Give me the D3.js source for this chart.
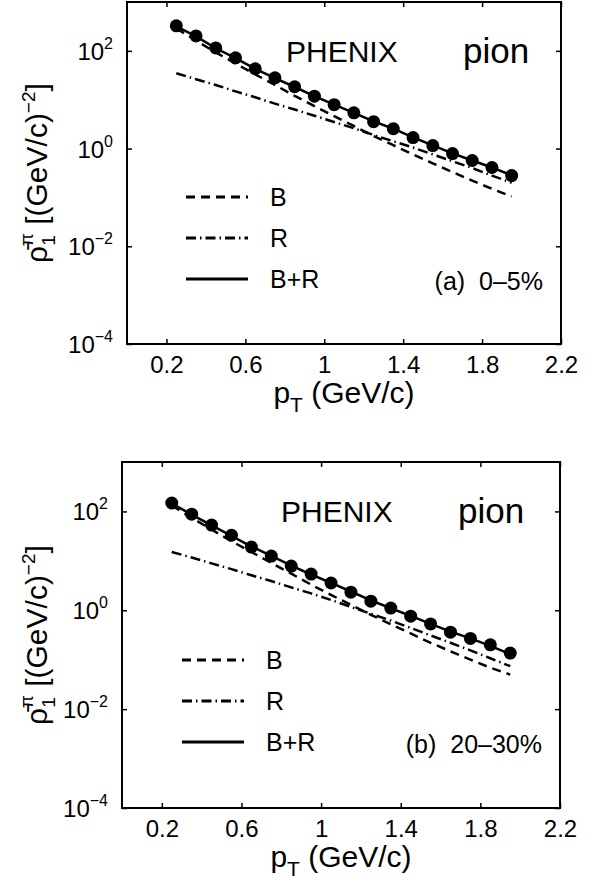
<!DOCTYPE html>
<html lang="en">
<head>
  <meta charset="UTF-8">
  <title>pion spectra</title>
  <script src="https://cdn.jsdelivr.net/npm/d3@7"></script>
<style>
body{
  margin: 0;
  background: #fff;
}
text{
  font-family: "Liberation Sans", Arial, sans-serif;
  fill: #000;
}
.marco{
  fill: none;
  stroke: #000;
  stroke-width: 2;
}
.eje path{ display: none; }
.eje line{ stroke: #000; stroke-width: 1.5; }
</style>
</head>
<body>
  <div id="grafico"></div>

  <script>
    var w = 602;
    var h = 884;

    // pT values of the points (GeV/c)
    var pT = [0.25, 0.35, 0.45, 0.55, 0.65, 0.75, 0.85, 0.95, 1.05, 1.15,
              1.25, 1.35, 1.45, 1.55, 1.65, 1.75, 1.85, 1.95];

    // (a) 0-5%
    var pionA = [326, 202, 115, 72, 43, 28, 18.4, 11.8, 7.9, 5.4,
                 3.56, 2.56, 1.68, 1.15, 0.79, 0.57, 0.41, 0.28];
    var sumA  = [318, 198, 113, 71, 43, 27.6, 18.2, 11.8, 7.9, 5.4,
                 3.6, 2.55, 1.7, 1.16, 0.8, 0.57, 0.41, 0.285];
    var baseA = [288, 162, 93, 55, 33, 20, 12, 7.4, 4.6, 2.9,
                 1.8, 1.17, 0.76, 0.5, 0.33, 0.22, 0.15, 0.105];
    var recoA = [34.7, 26.3, 20.0, 14.8, 11.2, 8.3, 6.3, 4.7, 3.5, 2.6,
                 1.9, 1.41, 1.05, 0.76, 0.55, 0.4, 0.28, 0.2];

    // (b) 20-30%
    var pionB = [148, 88, 53, 33, 19, 12.5, 7.85, 5.4, 3.56, 2.33,
                 1.53, 1.11, 0.76, 0.53, 0.36, 0.27, 0.2, 0.136];
    var sumB  = [145, 86, 52, 32, 19.5, 12.6, 8.0, 5.3, 3.6, 2.4,
                 1.58, 1.1, 0.77, 0.53, 0.37, 0.27, 0.19, 0.13];
    var baseB = [132, 74, 43, 25, 15.1, 9.1, 5.5, 3.3, 2.04, 1.29,
                 0.81, 0.52, 0.34, 0.22, 0.148, 0.1, 0.069, 0.05];
    var recoB = [15.1, 11.7, 8.9, 6.8, 5.1, 3.9, 2.9, 2.2, 1.62, 1.17,
                 0.85, 0.62, 0.44, 0.31, 0.22, 0.155, 0.107, 0.074];

    var xTicks = [0.2, 0.6, 1, 1.4, 1.8, 2.2];
    var yExps = [-4, -2, 0, 2];
    var leyenda = ["B", "R", "B+R"];
    var estilos = [
      {dash: "9,6", ancho: 2.5},
      {dash: "10,4,1.5,4", ancho: 2.5},
      {dash: null, ancho: 2.5}
    ];

    var grafico = d3.select("#grafico")
      .append("svg")
      .attr("width", w)
      .attr("height", h);

    function panel(p){
      var xScale = d3.scaleLinear().domain([0, 2.2]).range([p.left, p.right]);
      var yScale = d3.scaleLog().domain([1e-4, 1e3]).range([p.bottom, p.top]);
      var g = grafico.append("g");

      // ticks hacia dentro en los cuatro lados
      g.append("g").attr("class", "eje")
        .attr("transform", "translate(0," + p.bottom + ")")
        .call(d3.axisBottom(xScale).tickValues(xTicks).tickSize(-5).tickPadding(12)
          .tickFormat(function(d){ return d; }))
        .selectAll("text").attr("font-size", 24).style("font-family", "Liberation Sans, Arial, sans-serif");
      g.append("g").attr("class", "eje")
        .attr("transform", "translate(0," + p.top + ")")
        .call(d3.axisTop(xScale).tickValues(xTicks).tickSize(-5).tickFormat(""));
      g.append("g").attr("class", "eje")
        .attr("transform", "translate(" + p.left + ",0)")
        .call(d3.axisLeft(yScale).tickValues(yExps.map(function(e){ return Math.pow(10, e); }))
          .tickSize(-5).tickFormat(""));
      g.append("g").attr("class", "eje")
        .attr("transform", "translate(" + p.right + ",0)")
        .call(d3.axisRight(yScale).tickValues(yExps.map(function(e){ return Math.pow(10, e); }))
          .tickSize(-5).tickFormat(""));

      // etiquetas del eje y: 10^n
      yExps.forEach(function(e){
        var t = g.append("text")
          .attr("x", p.left - 14)
          .attr("y", yScale(Math.pow(10, e)) + 9)
          .attr("text-anchor", "end")
          .attr("font-size", 24)
          .text("10");
        t.append("tspan").attr("dy", -11).attr("font-size", 16)
          .text(e < 0 ? "\u2212" + (-e) : e);
      });

      g.append("rect").attr("class", "marco")
        .attr("x", p.left).attr("y", p.top)
        .attr("width", p.right - p.left).attr("height", p.bottom - p.top);

      // curvas
      var line = d3.line()
        .x(function(d){ return xScale(d[0]); })
        .y(function(d){ return yScale(d[1]); });
      [p.base, p.reco, p.sum].forEach(function(serie, i){
        g.append("path")
          .datum(d3.zip(pT, serie))
          .attr("d", line)
          .attr("fill", "none")
          .attr("stroke", "#000")
          .attr("stroke-width", estilos[i].ancho)
          .attr("stroke-dasharray", estilos[i].dash);
      });

      g.selectAll("circle.punto")
        .data(d3.zip(pT, p.pion))
        .enter().append("circle")
        .attr("class", "punto")
        .attr("cx", function(d){ return xScale(d[0]); })
        .attr("cy", function(d){ return yScale(d[1]); })
        .attr("r", 6.5)
        .attr("fill", "#000");

      // leyenda
      leyenda.forEach(function(nombre, i){
        var ly = p.legY + i * 41;
        g.append("line")
          .attr("x1", p.legX).attr("x2", p.legX + 62)
          .attr("y1", ly).attr("y2", ly)
          .attr("stroke", "#000").attr("stroke-width", 3)
          .attr("stroke-dasharray", estilos[i].dash);
        g.append("text").attr("x", p.legX + 84).attr("y", ly + 9)
          .attr("font-size", 25).text(nombre);
      });

      g.append("text").attr("x", p.left + 159).attr("y", p.top + 60)
        .attr("font-size", 30).text("PHENIX");
      g.append("text").attr("x", p.left + 336).attr("y", p.top + 61)
        .attr("font-size", 35).text("pion");
      g.append("text").attr("x", p.right - 18).attr("y", p.panelY)
        .attr("text-anchor", "end").attr("font-size", 25)
        .style("white-space", "pre").text(p.etiqueta);

      // titulo eje x
      var tx = g.append("text")
        .attr("x", (p.left + p.right) / 2).attr("y", p.bottom + 59)
        .attr("text-anchor", "middle").attr("font-size", 30);
      tx.append("tspan").text("p");
      tx.append("tspan").attr("dy", 9).attr("font-size", 21).text("T");
      tx.append("tspan").attr("dy", -9).text(" (GeV/c)");

      // titulo eje y
      var ty = g.append("text")
        .attr("transform", "translate(47," + ((p.top + p.bottom) / 2) + ") rotate(-90)")
        .attr("text-anchor", "middle").attr("font-size", 30);
      ty.append("tspan").text("\u03C1\u0304");
      ty.append("tspan").attr("dy", 8).attr("font-size", 19).text("1");
      ty.append("tspan").attr("dx", -11).attr("dy", -22).attr("font-size", 19).text("\u03C0");
      ty.append("tspan").attr("dy", 14).text(" [(GeV/c)");
      ty.append("tspan").attr("dy", -12).attr("font-size", 19).text("\u22122");
      ty.append("tspan").attr("dy", 12).text("]");
    }

    panel({left: 127, right: 561, top: 2, bottom: 344,
           pion: pionA, sum: sumA, base: baseA, reco: recoA,
           legX: 186, legY: 197, panelY: 290, etiqueta: "(a)  0\u20135%"});
    panel({left: 122, right: 560, top: 462, bottom: 808,
           pion: pionB, sum: sumB, base: baseB, reco: recoB,
           legX: 182, legY: 660, panelY: 753, etiqueta: "(b)  20\u201330%"});
  </script>
</body>
</html>
